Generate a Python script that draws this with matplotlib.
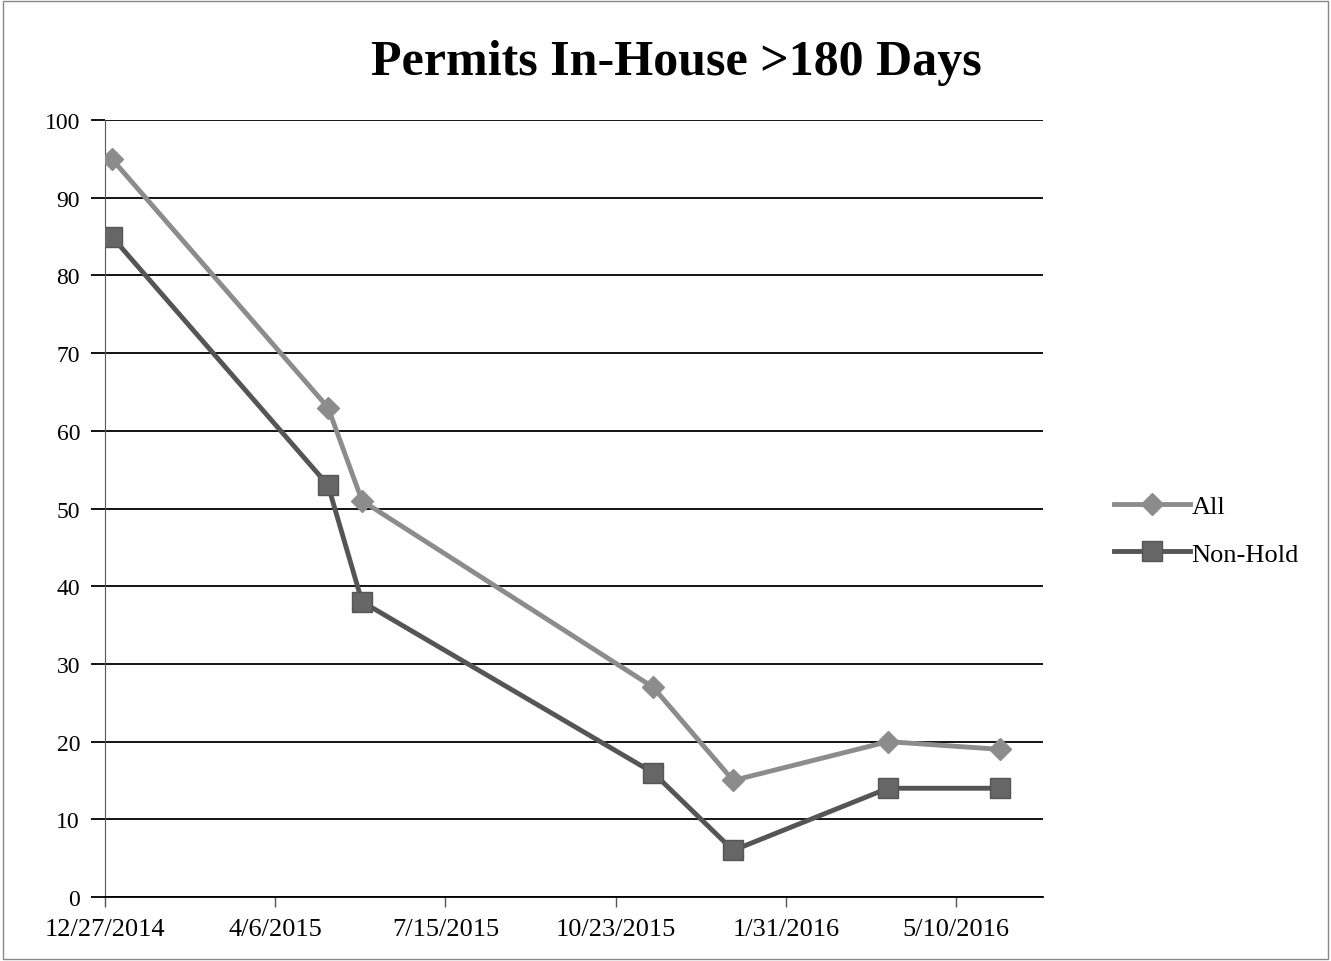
import datetime as dt

import matplotlib
matplotlib.use("Agg")
import matplotlib.pyplot as plt
import matplotlib.dates as mdates
from matplotlib.patches import Rectangle

# data
dates = ["2014-12-31", "2015-05-07", "2015-05-27", "2015-11-14",
         "2015-12-31", "2016-03-31", "2016-06-05"]
all_permits = [95, 63, 51, 27, 15, 20, 19]
non_hold = [85, 53, 38, 16, 6, 14, 14]
x_ticks = ["2014-12-27", "2015-04-06", "2015-07-15", "2015-10-23",
           "2016-01-31", "2016-05-10"]
x_end = "2016-06-30"
y_ticks = list(range(0, 101, 10))

to_date = lambda s: dt.datetime.strptime(s, "%Y-%m-%d")
xd = [to_date(s) for s in dates]

plt.rcParams["font.family"] = ["Liberation Serif", "DejaVu Serif"]

fig = plt.figure(figsize=(13.31, 9.62), dpi=100)
ax = fig.add_axes([0.0789, 0.0665, 0.7047, 0.8077])

ax.plot(xd, all_permits, color="#8c8c8c", lw=3.5, marker="D", ms=11,
        mfc="#8c8c8c", mec="#8c8c8c", label="All", zorder=3)
ax.plot(xd, non_hold, color="#555555", lw=3.5, marker="s", ms=15,
        mfc="#666666", mec="#555555", label="Non-Hold", zorder=3)

ax.set_ylim(0, 100)
ax.set_yticks(y_ticks)
ax.set_xlim(to_date(x_ticks[0]), to_date(x_end))
ax.set_xticks([to_date(s) for s in x_ticks])
ax.xaxis.set_major_formatter(
    matplotlib.ticker.FuncFormatter(
        lambda v, p: "{d.month}/{d.day}/{d.year}".format(d=mdates.num2date(v))))

ax.grid(axis="y", color="black", lw=1.3)
ax.set_axisbelow(True)
for s in ["top", "right"]:
    ax.spines[s].set_visible(False)
ax.spines["left"].set_color("#555555")
ax.spines["bottom"].set_color("black")
ax.spines["bottom"].set_linewidth(1.3)
ax.tick_params(axis="y", length=10, width=1.3, color="black", labelsize=17, pad=8)
ax.tick_params(axis="x", length=7, width=1, color="#555555", labelsize=19, pad=8)

fig.text(0.508, 0.935, "Permits In-House >180 Days", ha="center", va="center",
         fontsize=36, fontweight="bold")

ax.legend(loc="center left", bbox_to_anchor=(1.05, 0.472), frameon=False,
          fontsize=19, handlelength=2.9, handletextpad=0.05, labelspacing=0.9)

fig.add_artist(Rectangle((0.002, 0.002), 0.996, 0.996, transform=fig.transFigure,
                         fill=False, ec="#888888", lw=1))

fig.savefig("out.png", dpi=100)
